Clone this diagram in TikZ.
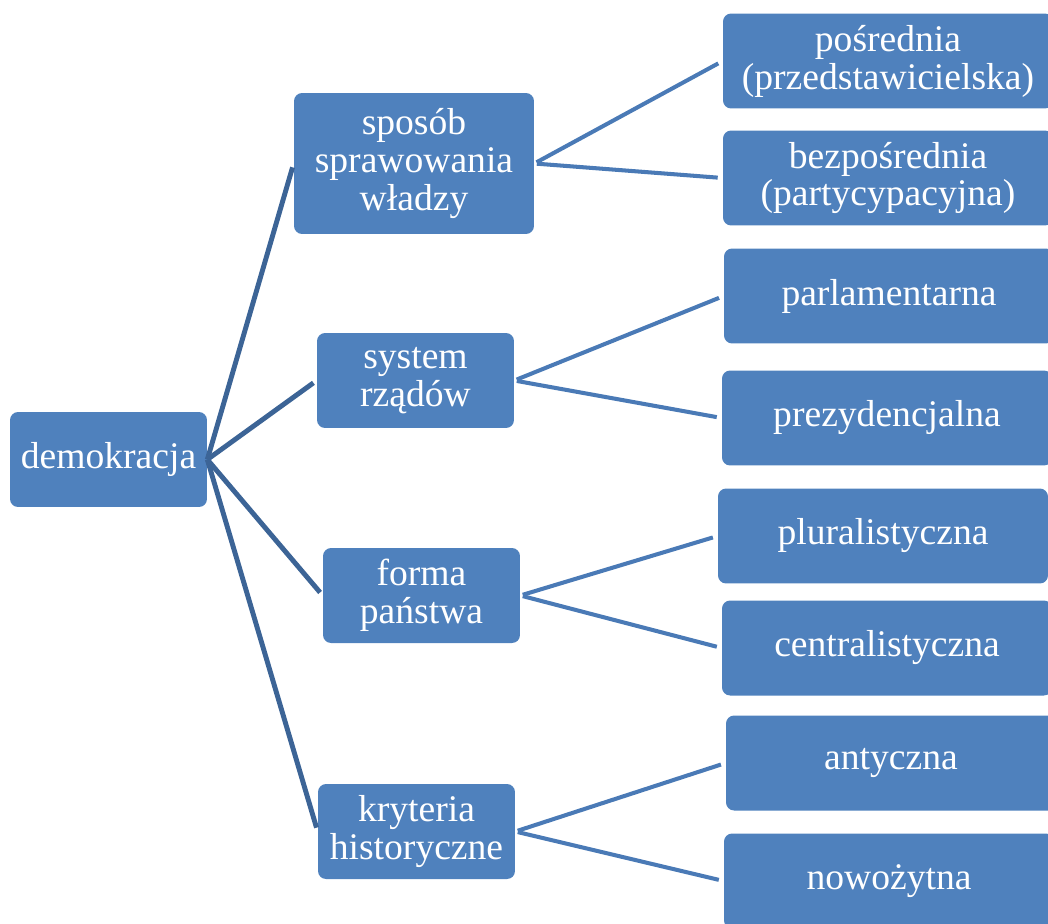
\documentclass[tikz,border=0pt]{standalone}
\usepackage{fontspec}
\setmainfont{Liberation Serif}
\usepackage{xcolor}
\usetikzlibrary{positioning}
\definecolor{skrzynka}{RGB}{79,129,189}
\definecolor{linia}{RGB}{60,100,150}
\definecolor{linia2}{RGB}{74,122,182}
\tikzset{
  blok/.style={fill=skrzynka,rounded corners=0.16cm,text=white,align=center,
    font=\fontsize{21.4}{21.6}\selectfont,inner sep=0pt},
  mid/.style={blok,minimum width=3.94cm,minimum height=1.9cm},
  liść/.style={blok,minimum width=6.6cm,minimum height=1.9cm},
  gal1/.style={linia,line width=2.8pt,shorten >=0.08cm},
  gal2/.style={linia2,line width=2.3pt,shorten >=0.1cm,shorten <=0.05cm}
}
\begin{document}
\begin{tikzpicture}[x=0.02cm,y=-0.02cm]
    \useasboundingbox (0,0) rectangle (1048,923);
    % korzen i galezie
    \node[mid] (demo) at (108.5,459.5) {demokracja};
    \node[mid,minimum width=4.8cm,minimum height=2.82cm] (sposob) at (414,163.5)
      {sposób\\sprawowania\\władzy};
    \node[mid] (system) at (415.5,380.5) {system\\rządów};
    \node[mid] (forma) at (421.5,595.5) {forma\\państwa};
    \node[mid] (kryt) at (416.5,831.5) {kryteria\\historyczne};
    % liscie
    \node[liść] (posr) at (888,61) {pośrednia\\(przedstawicielska)};
    \node[liść] (bezp) at (888,178) {bezpośrednia\\(partycypacyjna)};
    \node[liść] (parl) at (889,296) {parlamentarna};
    \node[liść] (prez) at (887,418) {prezydencjalna};
    \node[liść] (plur) at (883,536) {pluralistyczna};
    \node[liść] (cent) at (887,648) {centralistyczna};
    \node[liść] (anty) at (891,763) {antyczna};
    \node[liść] (nowo) at (889,881) {nowożytna};
    \foreach \g in {sposob,system,forma,kryt}{
      \draw[gal1] (demo.east) -- (\g.west);}
    \draw[gal2] (sposob.east) -- (posr.west);
    \draw[gal2] (sposob.east) -- (bezp.west);
    \draw[gal2] (system.east) -- (parl.west);
    \draw[gal2] (system.east) -- (prez.west);
    \draw[gal2] (forma.east) -- (plur.west);
    \draw[gal2] (forma.east) -- (cent.west);
    \draw[gal2] (kryt.east) -- (anty.west);
    \draw[gal2] (kryt.east) -- (nowo.west);
\end{tikzpicture}
\end{document}
